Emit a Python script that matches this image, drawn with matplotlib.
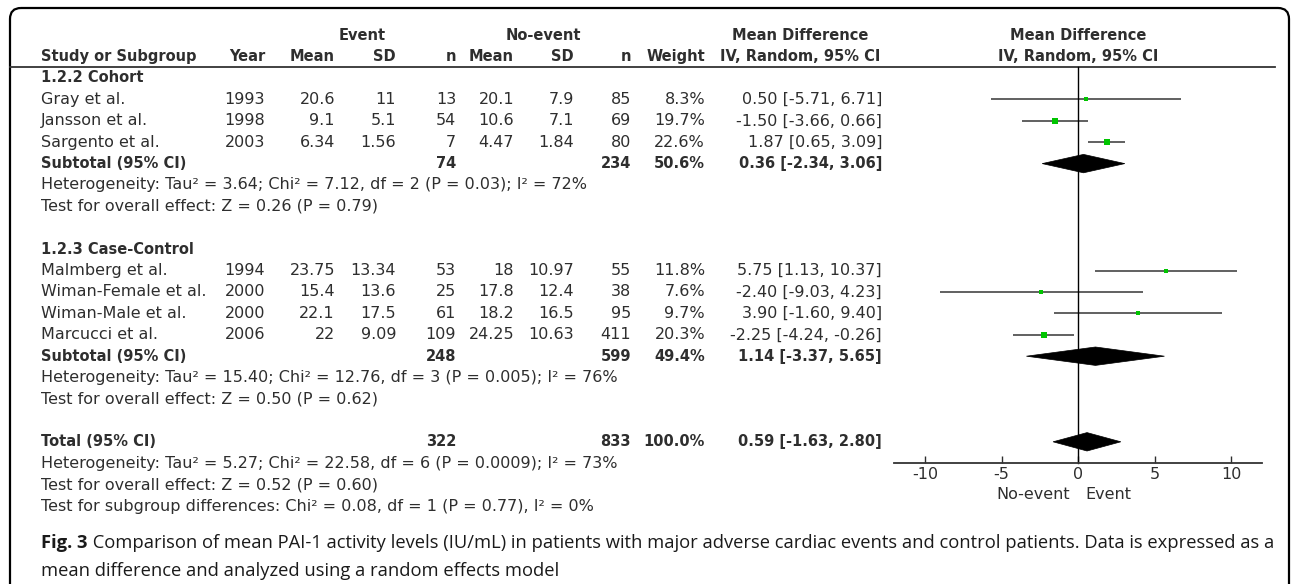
import matplotlib.pyplot as plt
from matplotlib.patches import FancyBboxPatch, Polygon

plt.rcParams['axes.unicode_minus'] = False
plt.rcParams['font.family'] = 'DejaVu Sans'

# ---- data: 1.2.2 Cohort ----
cohort_names = ['Gray et al.', 'Jansson et al.', 'Sargento et al.']
cohort_year = [1993, 1998, 2003]
cohort_ev_mean = [20.6, 9.1, 6.34]
cohort_ev_sd = [11, 5.1, 1.56]
cohort_ev_n = [13, 54, 7]
cohort_ne_mean = [20.1, 10.6, 4.47]
cohort_ne_sd = [7.9, 7.1, 1.84]
cohort_ne_n = [85, 69, 80]
cohort_weight = [8.3, 19.7, 22.6]
cohort_md = [0.50, -1.50, 1.87]
cohort_lo = [-5.71, -3.66, 0.65]
cohort_hi = [6.71, 0.66, 3.09]
# n event, n no-event, weight, md, lo, hi
cohort_sub = [74, 234, 50.6, 0.36, -2.34, 3.06]
cohort_het = 'Heterogeneity: Tau\u00b2 = 3.64; Chi\u00b2 = 7.12, df = 2 (P = 0.03); I\u00b2 = 72%'
cohort_z = 'Test for overall effect: Z = 0.26 (P = 0.79)'

# ---- data: 1.2.3 Case-Control ----
cc_names = ['Malmberg et al.', 'Wiman-Female et al.', 'Wiman-Male et al.', 'Marcucci et al.']
cc_year = [1994, 2000, 2000, 2006]
cc_ev_mean = [23.75, 15.4, 22.1, 22]
cc_ev_sd = [13.34, 13.6, 17.5, 9.09]
cc_ev_n = [53, 25, 61, 109]
cc_ne_mean = [18, 17.8, 18.2, 24.25]
cc_ne_sd = [10.97, 12.4, 16.5, 10.63]
cc_ne_n = [55, 38, 95, 411]
cc_weight = [11.8, 7.6, 9.7, 20.3]
cc_md = [5.75, -2.40, 3.90, -2.25]
cc_lo = [1.13, -9.03, -1.60, -4.24]
cc_hi = [10.37, 4.23, 9.40, -0.26]
cc_sub = [248, 599, 49.4, 1.14, -3.37, 5.65]
cc_het = 'Heterogeneity: Tau\u00b2 = 15.40; Chi\u00b2 = 12.76, df = 3 (P = 0.005); I\u00b2 = 76%'
cc_z = 'Test for overall effect: Z = 0.50 (P = 0.62)'

# ---- overall ----
total = [322, 833, 100.0, 0.59, -1.63, 2.80]
total_lines = ['Heterogeneity: Tau\u00b2 = 5.27; Chi\u00b2 = 22.58, df = 6 (P = 0.0009); I\u00b2 = 73%',
               'Test for overall effect: Z = 0.52 (P = 0.60)',
               'Test for subgroup differences: Chi\u00b2 = 0.08, df = 1 (P = 0.77), I\u00b2 = 0%']

xticks = [-10, -5, 0, 5, 10]
caption_bold = 'Fig. 3'
caption_1 = (' Comparison of mean PAI-1 activity levels (IU/mL) in patients with major adverse '
             'cardiac events and control patients. Data is expressed as a')
caption_2 = 'mean difference and analyzed using a random effects model'

# ---- layout (pixels) ----
W, H = 1292, 584
ROW0, DY = 78, 21.4
def ry(r):
    return ROW0 + DY * r

TXT = '#2e2e2e'
FS = 11.5      # regular text
FSB = 10.5     # bold text
col_x = [265, 335, 396, 456, 514, 574, 631, 705, 882]
green = '#00c400'

fig = plt.figure(figsize=(W / 100, H / 100), dpi=100)
bg = fig.add_axes([0, 0, 1, 1])
bg.set_xlim(0, W)
bg.set_ylim(H, 0)
bg.axis('off')

# rounded frame (open at bottom)
bg.add_patch(FancyBboxPatch((10, 8), 1279, 700, boxstyle='round,pad=0,rounding_size=11',
                            fc='none', ec='black', lw=1.6))

# forest axes, same row scale as the table
x_left, x_right = 894.4, 1261.6
fa = fig.add_axes([x_left / W, 0, (x_right - x_left) / W, 1])
fa.set_xlim(-12, 12)
fa.set_ylim((H - ROW0) / DY, -ROW0 / DY)
fa.patch.set_alpha(0)
for s in ['top', 'left', 'right']:
    fa.spines[s].set_visible(False)
fa.set_yticks([])

def t(x, r, s, ha='right', bold=False):
    bg.text(x, ry(r), s, ha=ha, va='center', fontsize=FSB if bold else FS, color=TXT,
            fontweight='bold' if bold else 'normal')

# headers
t(362, -2, 'Event', ha='center', bold=True)
t(543, -2, 'No-event', ha='center', bold=True)
t(800, -2, 'Mean Difference', ha='center', bold=True)
t(1078, -2, 'Mean Difference', ha='center', bold=True)
t(41, -1, 'Study or Subgroup', ha='left', bold=True)
for x, s in zip(col_x[:8], ['Year', 'Mean', 'SD', 'n', 'Mean', 'SD', 'n', 'Weight']):
    t(x, -1, s, bold=True)
t(800, -1, 'IV, Random, 95% CI', ha='center', bold=True)
t(1078, -1, 'IV, Random, 95% CI', ha='center', bold=True)
bg.plot([10, 1275], [ry(-0.5), ry(-0.5)], color='#333333', lw=1.3)

def ci_text(md, lo, hi):
    return f'{md:.2f} [{lo:.2f}, {hi:.2f}]'

def draw_summary(r, vals):
    n1, n2, w, m, l, h = vals
    t(col_x[3], r, str(n1), bold=True)
    t(col_x[6], r, str(n2), bold=True)
    t(col_x[7], r, f'{w:.1f}%', bold=True)
    t(col_x[8], r, ci_text(m, l, h), bold=True)
    hh = 0.43
    fa.add_patch(Polygon([(l, r), (m, r - hh), (h, r), (m, r + hh)], closed=True,
                         fc='black', ec='black', lw=0.5))

def draw_group(start, title, names, year, evm, evs, evn, nem, nes, nen, wt, md, lo, hi, sub, het, z):
    t(41, start, title, ha='left', bold=True)
    r = start + 1
    for i in range(len(names)):
        t(41, r, names[i], ha='left')
        vals = [year[i], f'{evm[i]:g}', f'{evs[i]:g}', evn[i], f'{nem[i]:g}', f'{nes[i]:g}',
                nen[i], f'{wt[i]:.1f}%', ci_text(md[i], lo[i], hi[i])]
        for x, v in zip(col_x, vals):
            t(x, r, str(v))
        fa.plot([lo[i], hi[i]], [r, r], color='#454545', lw=1.2, solid_capstyle='butt')
        side = (2 + 0.2 * wt[i]) * 0.72
        fa.plot(md[i], r, marker='s', ms=side, color=green, mec=green, mew=0)
        r += 1
    t(41, r, 'Subtotal (95% CI)', ha='left', bold=True)
    draw_summary(r, sub)
    t(41, r + 1, het, ha='left')
    t(41, r + 2, z, ha='left')
    return r

r_end = draw_group(0, '1.2.2 Cohort', cohort_names, cohort_year, cohort_ev_mean, cohort_ev_sd,
                   cohort_ev_n, cohort_ne_mean, cohort_ne_sd, cohort_ne_n, cohort_weight,
                   cohort_md, cohort_lo, cohort_hi, cohort_sub, cohort_het, cohort_z)
r_end = draw_group(r_end + 4, '1.2.3 Case-Control', cc_names, cc_year, cc_ev_mean, cc_ev_sd,
                   cc_ev_n, cc_ne_mean, cc_ne_sd, cc_ne_n, cc_weight,
                   cc_md, cc_lo, cc_hi, cc_sub, cc_het, cc_z)
r_tot = r_end + 4
t(41, r_tot, 'Total (95% CI)', ha='left', bold=True)
draw_summary(r_tot, total)
for k, s in enumerate(total_lines):
    t(41, r_tot + 1 + k, s, ha='left')

# forest axis
axis_row = r_tot + 1
fa.plot([0, 0], [-0.5, axis_row], color='black', lw=1.0)
fa.spines['bottom'].set_position(('data', axis_row))
fa.spines['bottom'].set_color('#333333')
fa.spines['bottom'].set_linewidth(1.3)
fa.set_xticks(xticks)
fa.tick_params(axis='x', direction='in', length=5, width=1, pad=3, labelsize=FS,
               colors=TXT)
fa.text(-0.55, axis_row + 1.45, 'No-event', ha='right', va='center', fontsize=FS, color=TXT)
fa.text(0.5, axis_row + 1.45, 'Event', ha='left', va='center', fontsize=FS, color=TXT)

# caption
cap_font = 'Open Sans'
CFS = 13.2
c0 = bg.text(41, 543, caption_bold, ha='left', va='center', fontsize=CFS,
             fontweight='bold', family=cap_font, color='#1a1a1a')
fig.canvas.draw()
bb = c0.get_window_extent()
bg.text(bb.x1, 543, caption_1, ha='left', va='center', fontsize=CFS, family=cap_font,
        color='#1a1a1a')
bg.text(41, 571, caption_2, ha='left', va='center', fontsize=CFS, family=cap_font,
        color='#1a1a1a')

fig.savefig('out.png', dpi=100)
